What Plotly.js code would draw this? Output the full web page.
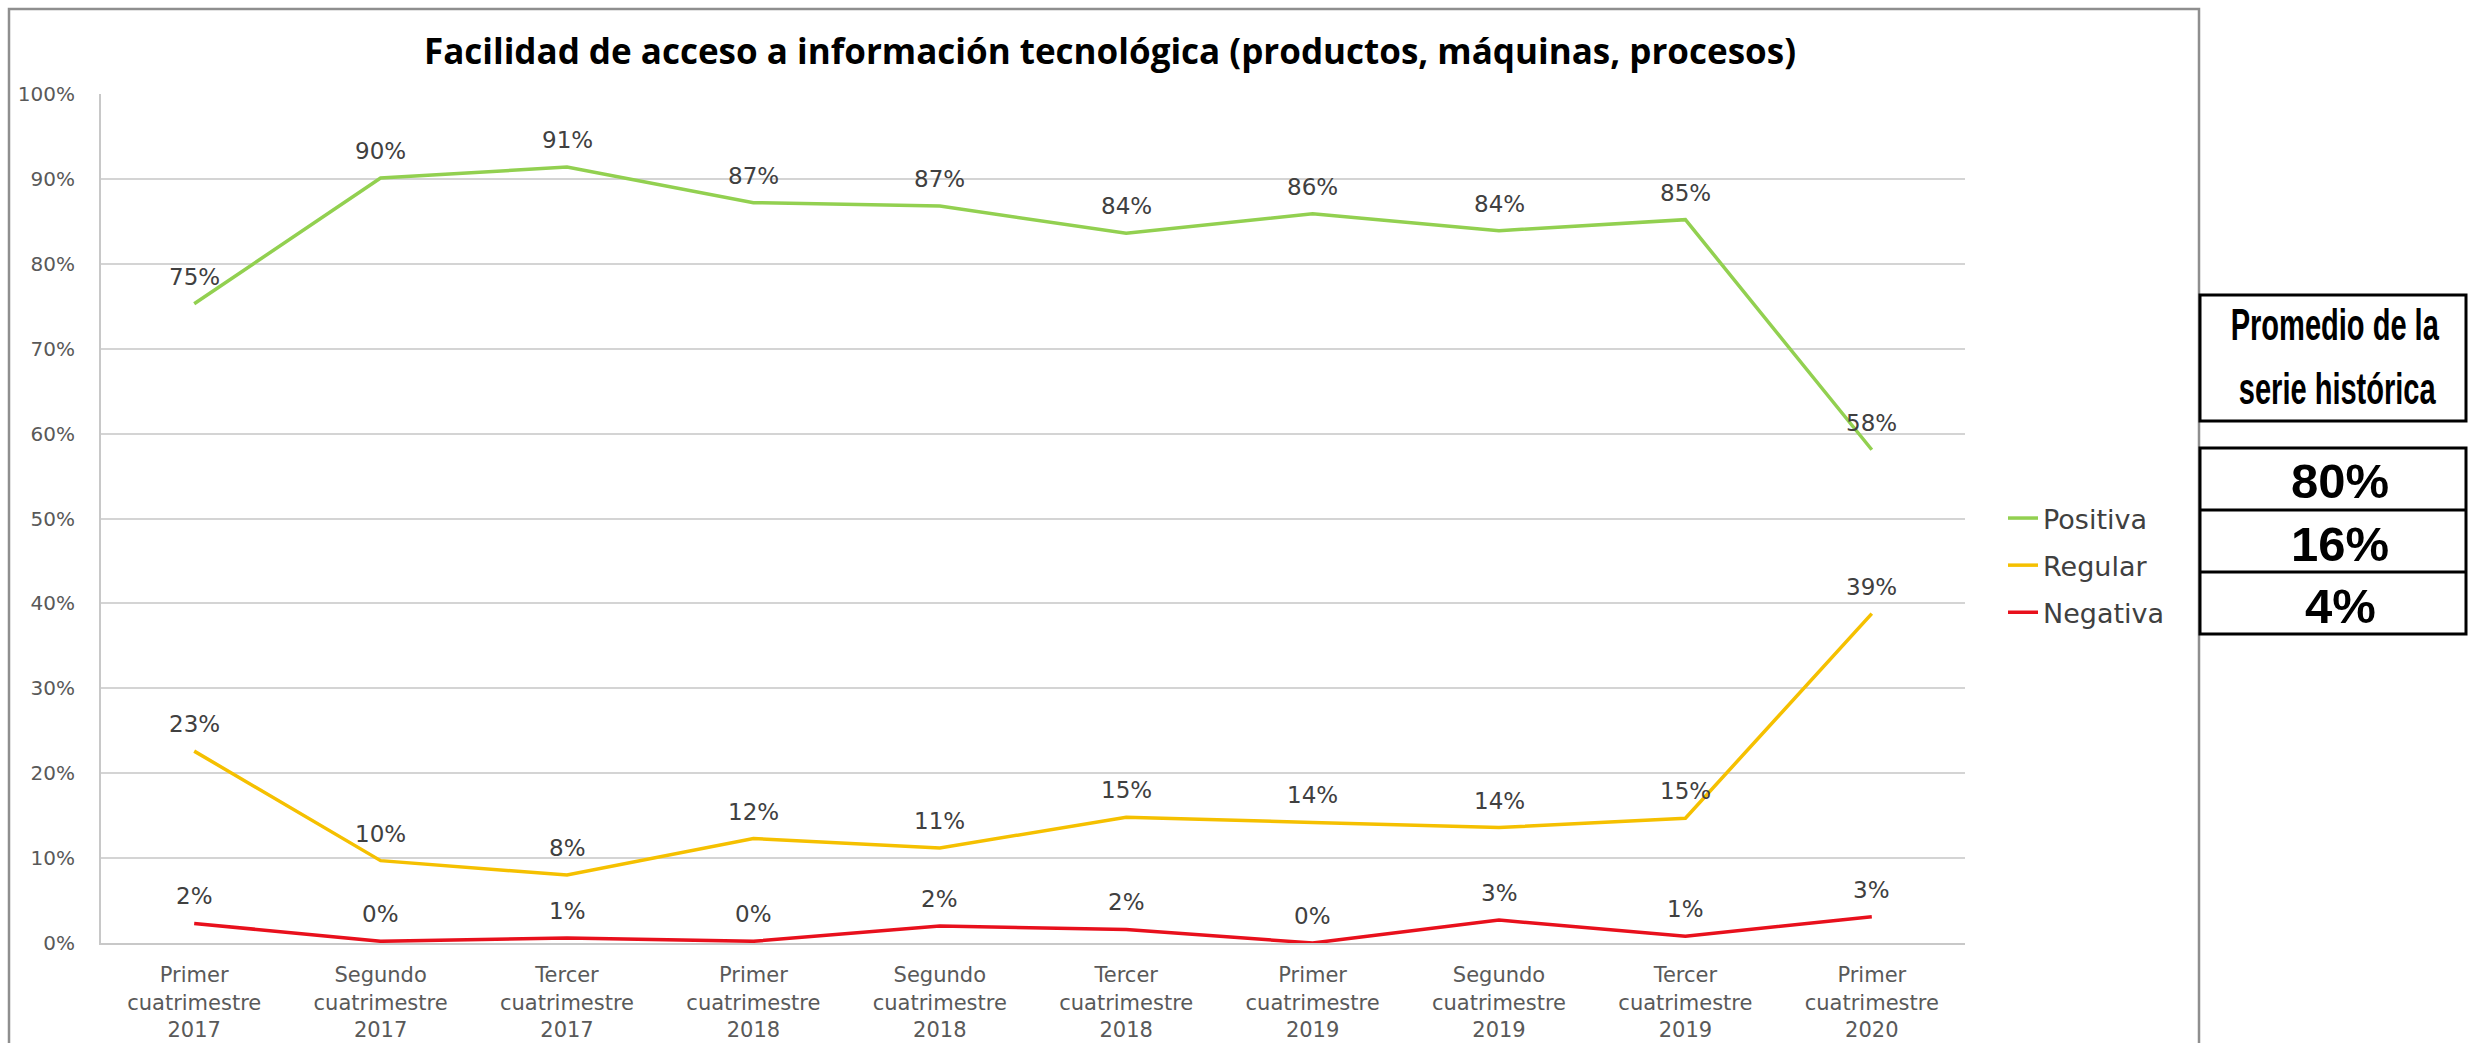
<!DOCTYPE html>
<html>
<head>
<meta charset="utf-8">
<script src="https://cdn.plot.ly/plotly-3.0.1.min.js"></script>
<style>html,body{margin:0;padding:0;background:#fff;}#chart{width:2469px;height:1043px;}</style>
</head>
<body>
<div id="chart"></div>
<script>
// ---- data ----
const categories = [
  'Primer<br>cuatrimestre<br>2017', 'Segundo<br>cuatrimestre<br>2017', 'Tercer<br>cuatrimestre<br>2017',
  'Primer<br>cuatrimestre<br>2018', 'Segundo<br>cuatrimestre<br>2018', 'Tercer<br>cuatrimestre<br>2018',
  'Primer<br>cuatrimestre<br>2019', 'Segundo<br>cuatrimestre<br>2019', 'Tercer<br>cuatrimestre<br>2019',
  'Primer<br>cuatrimestre<br>2020'
];
const positiva = [0.753, 0.901, 0.914, 0.872, 0.868, 0.836, 0.859, 0.839, 0.852, 0.581];
const regular  = [0.226, 0.097, 0.080, 0.123, 0.112, 0.148, 0.142, 0.136, 0.147, 0.388];
const negativa = [0.023, 0.002, 0.006, 0.002, 0.020, 0.016, 0.000, 0.027, 0.008, 0.031];
const seriesNames = ['Positiva', 'Regular', 'Negativa'];
const promedio = [0.80, 0.16, 0.04];
const tableHeader = ['Promedio de la', 'serie histórica'];
const chartTitle = 'Facilidad de acceso a información tecnológica (productos, máquinas, procesos)';

// ---- layout helpers (pixel -> paper) ----
const W = 2469, H = 1043, L = 101, R = 1965, T = 94, B = 943;
const px = x => (x - L) / (R - L);
const py = y => (B - y) / (B - T);
const pct = v => Math.round(v * 100) + '%';

const colors = ['#92d050', '#f5c000', '#e8101c'];
const seriesValues = [positiva, regular, negativa];

const traces = seriesValues.map((vals, i) => ({
  type: 'scatter', mode: 'lines', name: seriesNames[i],
  x: categories, y: vals,
  line: {color: colors[i], width: 3.5},
  legendgroup: 'g' + i,
  hoverinfo: 'skip'
}));

const annotations = [];
seriesValues.forEach(vals => {
  vals.forEach((v, j) => {
    annotations.push({
      xref: 'x', yref: 'y', x: categories[j], y: v, text: pct(v),
      showarrow: false, yshift: 27, xanchor: 'center', yanchor: 'middle',
      font: {family: 'DejaVu Sans', size: 23, color: '#404040'}
    });
  });
});

// table text
const headerStart = annotations.length;
const headerFont = {family: 'Liberation Sans, Arial, sans-serif', size: 44, color: '#000', weight: 'bold'};
annotations.push({xref: 'paper', yref: 'paper', x: px(2335), y: py(324), text: tableHeader[0], showarrow: false,
  xanchor: 'center', yanchor: 'middle', font: headerFont});
annotations.push({xref: 'paper', yref: 'paper', x: px(2337), y: py(388), text: tableHeader[1], showarrow: false,
  xanchor: 'center', yanchor: 'middle', font: headerFont});
const rowCenters = [481, 544, 606];
promedio.forEach((v, i) => {
  annotations.push({xref: 'paper', yref: 'paper', x: px(2340), y: py(rowCenters[i]), text: pct(v), showarrow: false,
    xanchor: 'center', yanchor: 'middle', font: {family: 'Liberation Sans, Arial, sans-serif', size: 49, color: '#000', weight: 'bold'}});
});

const shapes = [
  {type: 'rect', xref: 'paper', yref: 'paper', x0: px(9), x1: px(2199), y0: py(1070), y1: py(9),
   line: {color: '#8f8f8f', width: 2.5}, fillcolor: 'rgba(0,0,0,0)', layer: 'below'},
  {type: 'rect', xref: 'paper', yref: 'paper', x0: px(2200), x1: px(2466), y0: py(421), y1: py(295),
   line: {color: '#000', width: 3}, fillcolor: 'rgba(0,0,0,0)'},
  {type: 'rect', xref: 'paper', yref: 'paper', x0: px(2200), x1: px(2466), y0: py(634), y1: py(448),
   line: {color: '#000', width: 3}, fillcolor: 'rgba(0,0,0,0)'},
  {type: 'line', xref: 'paper', yref: 'paper', x0: px(2200), x1: px(2466), y0: py(510), y1: py(510),
   line: {color: '#000', width: 3}},
  {type: 'line', xref: 'paper', yref: 'paper', x0: px(2200), x1: px(2466), y0: py(572), y1: py(572),
   line: {color: '#000', width: 3}}
];

const layout = {
  width: W, height: H,
  margin: {l: L, r: W - R, t: T, b: H - B, pad: 0},
  paper_bgcolor: '#fff', plot_bgcolor: '#fff',
  title: {text: chartTitle, x: 1110 / W, xanchor: 'center', y: 1 - 52 / H, yanchor: 'middle',
    font: {family: 'Open Sans, DejaVu Sans, sans-serif', size: 35, color: '#000', weight: 'bold'}},
  xaxis: {type: 'category', range: [-0.5, 9.5], showgrid: false, showline: true, linecolor: '#c8c8c8', linewidth: 2,
    ticks: '', ticklabelstandoff: 12, tickfont: {family: 'DejaVu Sans', size: 21, color: '#595959'}, fixedrange: true},
  yaxis: {range: [0, 1], dtick: 0.1, tick0: 0, tickformat: '.0%', showgrid: true, gridcolor: '#d4d4d4', gridwidth: 2,
    showline: true, linecolor: '#c8c8c8', linewidth: 2, zeroline: false, ticks: '', ticklabelstandoff: 20,
    tickfont: {family: 'DejaVu Sans', size: 20, color: '#595959'}, fixedrange: true},
  showlegend: true,
  legend: {x: px(2003), xanchor: 'left', y: py(494), yanchor: 'top', traceorder: 'grouped', tracegroupgap: 9,
    font: {family: 'DejaVu Sans', size: 27, color: '#404040'}, bgcolor: 'rgba(0,0,0,0)', borderwidth: 0},
  annotations: annotations,
  shapes: shapes
};

Plotly.newPlot('chart', traces, layout, {displayModeBar: false, staticPlot: true}).then(gd => {
  // condense the table header text horizontally (narrow bold face in the reference)
  [headerStart, headerStart + 1].forEach(idx => {
    const g = gd.querySelector('.annotation[data-index="' + idx + '"] text');
    if (g) {
      g.style.transformBox = 'fill-box';
      g.style.transformOrigin = 'center';
      g.style.transform = 'scaleX(0.66)';
    }
  });
});
</script>
</body>
</html>
